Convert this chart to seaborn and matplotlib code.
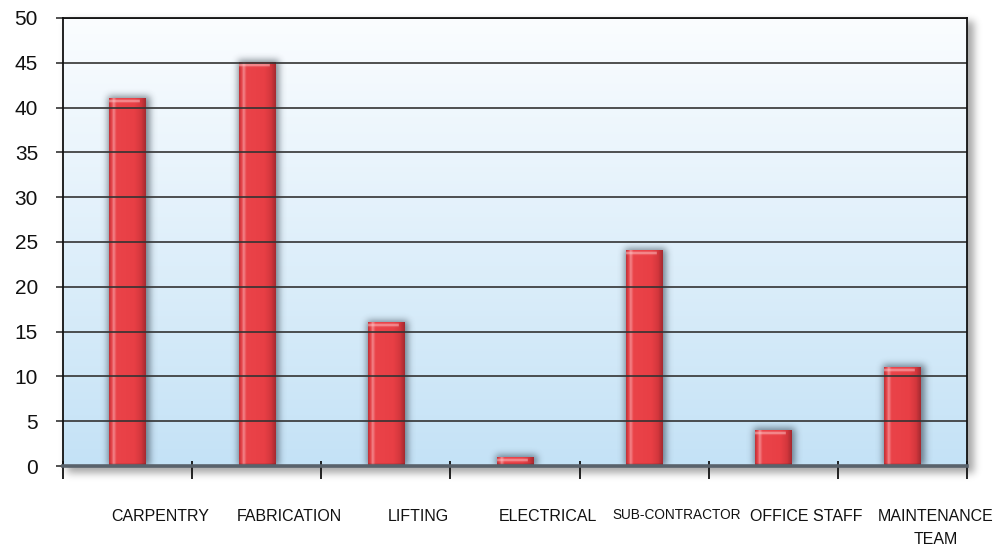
import numpy as np
import matplotlib
matplotlib.use("Agg")
import matplotlib.pyplot as plt
import seaborn as sns
from matplotlib.colors import LinearSegmentedColormap, to_rgb
from matplotlib.transforms import blended_transform_factory, ScaledTranslation

# ---- data -------------------------------------------------------------
categories = ["CARPENTRY", "FABRICATION", "LIFTING", "ELECTRICAL",
              "SUB-CONTRACTOR", "OFFICE STAFF", "MAINTENANCE\nTEAM"]
counts = [41, 45, 16, 1, 24, 4, 11]
y_ticks = [0, 5, 10, 15, 20, 25, 30, 35, 40, 45, 50]

# ---- figure setup ---------------------------------------------------------
W, H, DPI = 994, 545, 100
AX_L, AX_R, AX_T, AX_B = 63, 967, 18, 466  # plot box in pixels (from top-left)

sns.set_theme(style="white")
plt.rcParams["font.family"] = ["Liberation Sans", "DejaVu Sans"]

fig = plt.figure(figsize=(W / DPI, H / DPI), dpi=DPI, facecolor="white")
ax = fig.add_axes([AX_L / W, (H - AX_B) / H, (AX_R - AX_L) / W, (AX_B - AX_T) / H])


def blur(a, sigma):
    r = int(3 * sigma)
    k = np.exp(-0.5 * (np.arange(-r, r + 1) / sigma) ** 2)
    k /= k.sum()
    a = np.apply_along_axis(lambda m: np.convolve(m, k, mode="same"), 0, a)
    a = np.apply_along_axis(lambda m: np.convolve(m, k, mode="same"), 1, a)
    return a


# drop shadow behind the plot box
mask = np.zeros((H, W))
mask[AX_T + 3:AX_B + 7, AX_L + 4:AX_R + 7] = 1.0
mask = blur(mask, 4.0)
shadow = np.zeros((H, W, 4))
shadow[..., 3] = mask * 0.35
fig.figimage(shadow, xo=0, yo=0, origin="upper", zorder=-1)

# bars
sns.barplot(x=categories, y=counts, color="#e8403f", width=0.28,
            saturation=1, ax=ax, edgecolor="none", linewidth=0, zorder=1)

n = len(categories)
ax.set_xlim(-0.5, n - 0.5)
ax.set_ylim(0, 50)

# vertical gradient background of the plot area
top_c = np.array(to_rgb("#fbfdff"))
bot_c = np.array(to_rgb("#c4e2f6"))
t = np.linspace(0, 1, 256)[:, None, None]
bg = top_c * (1 - t) + bot_c * t
ax.imshow(bg, extent=[0, 1, 0, 1], transform=ax.transAxes, aspect="auto",
          origin="upper", zorder=0, interpolation="bilinear")
ax.patch.set_visible(False)

# soft shadow around each bar
aw, ah = AX_R - AX_L, AX_B - AX_T
bmask = np.zeros((ah, aw))
boxes = []
for p in ax.patches:
    bb = p.get_window_extent()
    x0 = int(round(bb.x0 - AX_L)); x1 = int(round(bb.x1 - AX_L))
    ytop = int(round((H - bb.y1) - AX_T))
    boxes.append((p, bb))
    bmask[max(ytop - 2, 0):ah, max(x0 - 1, 0):min(x1 + 4, aw)] = 1.0
bmask = blur(bmask, 3.5)
bsh = np.zeros((ah, aw, 4))
bsh[..., :3] = to_rgb("#1e2a35")
bsh[..., 3] = bmask * 0.55
ax.imshow(bsh, extent=[0, 1, 0, 1], transform=ax.transAxes, aspect="auto",
          origin="upper", zorder=0.5, interpolation="bilinear")

# glossy face for each bar
face_cmap = LinearSegmentedColormap.from_list("face", [
    (0.00, "#c4343a"), (0.05, "#e33f45"), (0.12, "#f3868a"),
    (0.19, "#ea4349"), (0.70, "#e83f45"), (0.88, "#d3373d"),
    (1.00, "#a82b31")])
for p, bb in boxes:
    wpx = max(int(round(bb.width)), 2)
    hpx = max(int(round(bb.height)), 2)
    tx = np.linspace(0, 1, wpx)
    row = face_cmap(tx)[:, :3]
    img = np.repeat(row[None, :, :], hpx, axis=0)
    d = np.arange(hpx)[:, None]
    hl = 0.55 * np.exp(-((d - 2.5) / 1.4) ** 2) * (tx[None, :] < 0.85)
    img = img * (1 - hl[..., None]) + np.array(to_rgb("#ffd0d2")) * hl[..., None]
    dark = 0.25 * np.clip(1 - (hpx - 1 - d) / 3.0, 0, 1)
    img = img * (1 - dark[..., None])
    x0, y0 = p.get_x(), p.get_y()
    ax.imshow(img, extent=[x0, x0 + p.get_width(), y0, y0 + p.get_height()],
              aspect="auto", origin="upper", zorder=1.5, interpolation="bilinear")

ax.set_xlim(-0.5, n - 0.5)
ax.set_ylim(0, 50)

# axes, grid and ticks
ax.set_axisbelow(False)
ax.yaxis.grid(True, color="#333333", linewidth=1.2, zorder=2.5)
ax.xaxis.grid(False)
ax.set_yticks(y_ticks)
ax.tick_params(axis="y", direction="out", length=5, width=1.2, color="#333333",
               pad=13, labelsize=15, labelcolor="#111111", left=True)
ax.set_xticks([])
ax.set_xlabel("")
ax.set_ylabel("")
for side in ("top", "left", "right"):
    ax.spines[side].set_color("#111111")
    ax.spines[side].set_linewidth(1.3)
    ax.spines[side].set_zorder(3)
ax.spines["bottom"].set_color("#59626b")
ax.spines["bottom"].set_linewidth(2.6)
ax.spines["bottom"].set_zorder(3)

# category separator ticks crossing the baseline
sep_tr = blended_transform_factory(ax.transData, ax.transAxes)
ax.vlines(np.arange(n + 1) - 0.5, -13 / ah, 5 / ah, transform=sep_tr,
          colors="#111111", linewidth=1.3, clip_on=False, zorder=3)

# category labels
for i, lab in enumerate(categories):
    small = lab == "SUB-CONTRACTOR"
    size = 9.8 if small else 11.5
    drop = 42 if small else 43
    lab_tr = sep_tr + ScaledTranslation(33 / DPI, -drop / DPI, fig.dpi_scale_trans)
    ax.text(i, 0, lab, transform=lab_tr, ha="center", va="top", fontsize=size,
            color="#111111", linespacing=1.65)

fig.savefig("out.png", dpi=DPI, facecolor="white")
